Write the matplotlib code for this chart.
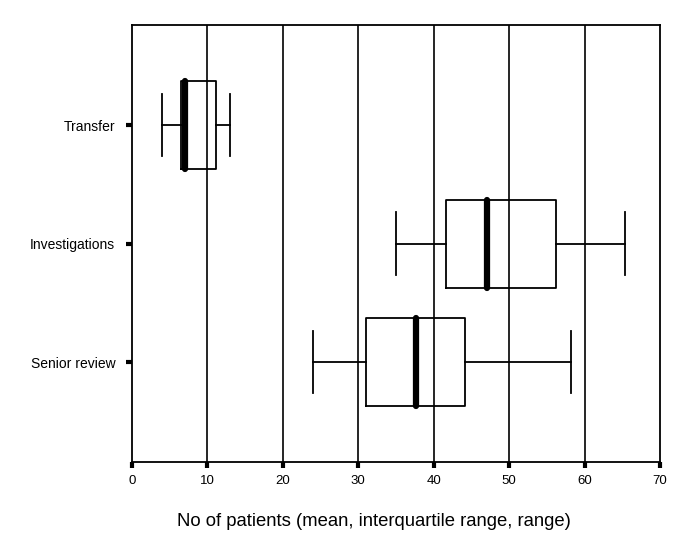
"""Horizontal box plot of patient counts per category."""
import matplotlib
matplotlib.use("Agg")
import matplotlib.pyplot as plt

plt.rcParams["font.family"] = ["Liberation Sans", "DejaVu Sans"]

CATEGORIES = ["Senior review", "Investigations", "Transfer"]
WHISKER_LOW = [24, 35, 4]
Q1 = [31, 41.6, 6.5]
CENTRE = [37.6, 47.1, 7.0]
Q3 = [44.1, 56.2, 11.1]
WHISKER_HIGH = [58.2, 65.4, 13]
X_TICKS = [0, 10, 20, 30, 40, 50, 60, 70]


def main() -> None:
    fig = plt.figure(figsize=(6.85, 5.58), dpi=100)
    ax = fig.add_axes([0.1927, 0.172, 0.7708, 0.783])

    for x in X_TICKS[1:-1]:
        ax.axvline(x, color="black", lw=1.2, zorder=1)

    stats = []
    for i, name in enumerate(CATEGORIES):
        stats.append({
            "label": name,
            "whislo": WHISKER_LOW[i],
            "q1": Q1[i],
            "med": CENTRE[i],
            "q3": Q3[i],
            "whishi": WHISKER_HIGH[i],
            "fliers": [],
        })
    pos = list(range(1, len(CATEGORIES) + 1))
    ax.bxp(
        stats, positions=pos, vert=False, widths=0.743, showfliers=False,
        boxprops=dict(color="black", lw=1.3),
        whiskerprops=dict(color="black", lw=1.3),
        capprops=dict(color="black", lw=1.3),
        medianprops=dict(color="black", lw=4.5, solid_capstyle="round"),
        capwidths=0.53, manage_ticks=False, zorder=3,
    )

    ax.set_xlim(0, 70)
    ax.set_ylim(0.156, 3.844)
    ax.set_xticks(X_TICKS)
    ax.set_yticks(pos)
    ax.set_yticklabels(CATEGORIES)
    ax.tick_params(axis="x", length=4, width=3, pad=5, labelsize=9.5)
    ax.tick_params(axis="y", length=4, width=3, pad=8, labelsize=10)
    for sp in ax.spines.values():
        sp.set_linewidth(1.3)
    fig.text(374 / 685, 1 - 521 / 558,
             "No of patients (mean, interquartile range, range)",
             fontsize=13.3, ha="center", va="center")

    fig.savefig("out.png", dpi=100)
    plt.close(fig)


if __name__ == "__main__":
    main()
